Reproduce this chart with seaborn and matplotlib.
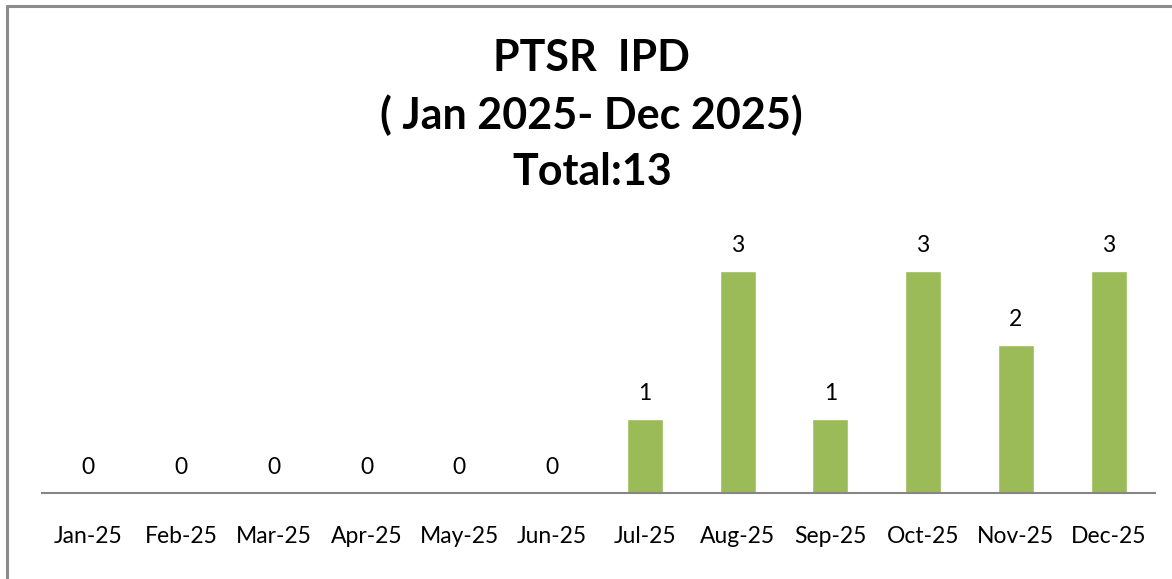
import numpy as np
import pandas as pd
import matplotlib.pyplot as plt
import seaborn as sns
from matplotlib.lines import Line2D

# monthly counts
months = ['Jan-25', 'Feb-25', 'Mar-25', 'Apr-25', 'May-25', 'Jun-25',
          'Jul-25', 'Aug-25', 'Sep-25', 'Oct-25', 'Nov-25', 'Dec-25']
counts = [0, 0, 0, 0, 0, 0, 1, 3, 1, 3, 2, 3]
title_lines = ['PTSR  IPD', '( Jan 2025- Dec 2025)', 'Total:13']

sns.set_style('white')
plt.rcParams['font.family'] = ['Lato', 'DejaVu Sans']
plt.rcParams['text.color'] = 'black'
plt.rcParams['xtick.color'] = 'black'

data = pd.DataFrame({'month': months, 'count': counts})

fig = plt.figure(figsize=(11.72, 5.79), dpi=100)
ax = fig.add_axes([0.0358, 0.1485, 0.9497, 0.4715])

sns.barplot(data=data, x='month', y='count', color='#9BBB59', width=0.39,
            saturation=1, ax=ax)

ax.set_ylim(0, 3.69)
ax.set_xlim(-0.5, len(months) - 0.5)
ax.bar_label(ax.containers[0], fmt='%d', padding=11, fontsize=16.5,
             color='black')

ax.set_xlabel('')
ax.set_ylabel('')
ax.set_yticks([])
ax.tick_params(axis='x', length=0, pad=24, labelsize=16.5, labelcolor='black')
for side in ['top', 'right', 'left']:
    ax.spines[side].set_visible(False)
ax.spines['bottom'].set_color('#868686')
ax.spines['bottom'].set_linewidth(1.5)

# title, three lines
ys = [1 - 58 / 579, 1 - 115 / 579, 1 - 172 / 579]
for line, y in zip(title_lines, ys):
    fig.text(0.505, y, line, ha='center', va='center',
             fontsize=31, fontweight='bold', color='black')

# chart area border (left and top visible)
fig.add_artist(Line2D([7 / 1172, 7 / 1172], [0, 1 - 6 / 579],
                      transform=fig.transFigure, color='#8c8c8c', lw=2.2))
fig.add_artist(Line2D([7 / 1172, 1], [1 - 6 / 579, 1 - 6 / 579],
                      transform=fig.transFigure, color='#8c8c8c', lw=2.2))

fig.savefig('out.png', dpi=100)
